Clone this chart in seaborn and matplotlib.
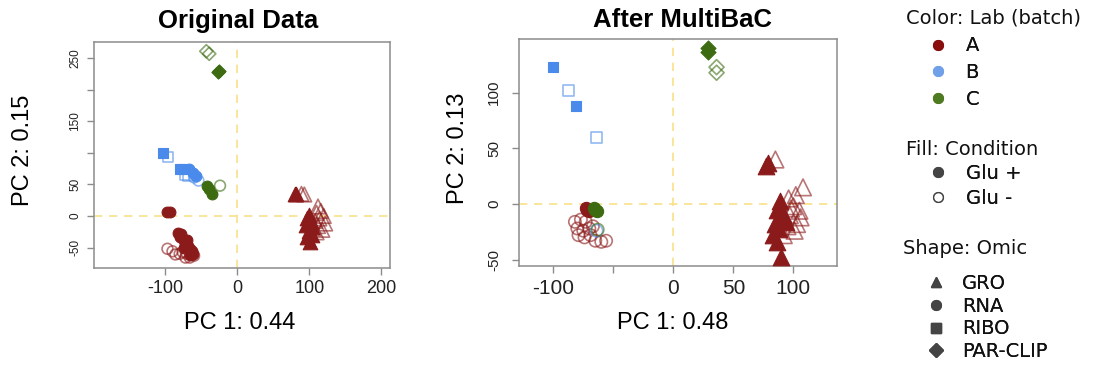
import pandas as pd
import matplotlib.pyplot as plt
import seaborn as sns
from matplotlib.lines import Line2D

# ---- Original data: PCA scores ----
orig_pc1 = [-98, -93, -82, -78, -80, -76, -73, -70, -72, -68, -66, -63, -62, -66, -74,   # A RNA Glu+
            -97, -90, -86, -80, -76, -70, -66, -60, -72,                                # A RNA Glu-
            80, 82, 100, 97, 102, 95, 104, 99, 103, 97, 101,                            # A GRO Glu+
            89, 93, 112, 116, 110, 120, 114, 108, 122, 112, 118, 106, 110,              # A GRO Glu-
            -103, -80, -75,                                                             # B RIBO Glu+
            -96, -69, -73,                                                              # B RIBO Glu-
            -67, -62, -57,                                                              # B RNA Glu+
            -54, -60,                                                                   # B RNA Glu-
            -42, -35, -40,                                                              # C RNA Glu+
            -24,                                                                        # C RNA Glu-
            -26, -27,                                                                   # C PAR-CLIP Glu+
            -43, -39]                                                                   # C PAR-CLIP Glu-
orig_pc2 = [7, 7, -27, -28, -33, -36, -40, -38, -45, -47, -52, -55, -60, -62, -50,
            -52, -56, -61, -60, -57, -60, -66, -63, -66,
            35, 35, 2, -4, -8, -14, -18, -24, -30, -34, -42,
            35, 34, 15, 8, 5, 0, -4, -8, -12, -16, -22, -20, -26,
            99, 74, 74,
            93, 63, 65,
            74, 68, 63,
            56, 61,
            47, 35, 42,
            48,
            229, 228,
            261, 257]
orig_lab = ["A"] * 48 + ["B"] * 11 + ["C"] * 8
orig_glu = (["Glu +"] * 15 + ["Glu -"] * 9 + ["Glu +"] * 11 + ["Glu -"] * 13
            + ["Glu +"] * 3 + ["Glu -"] * 3 + ["Glu +"] * 3 + ["Glu -"] * 2
            + ["Glu +"] * 3 + ["Glu -"] * 1 + ["Glu +"] * 2 + ["Glu -"] * 2)
orig_omic = (["RNA"] * 24 + ["GRO"] * 24 + ["RIBO"] * 6 + ["RNA"] * 5
             + ["RNA"] * 4 + ["PAR-CLIP"] * 4)

# ---- After MultiBaC: PCA scores ----
mbac_pc1 = [-72, -70, -73,                                                              # A RNA Glu+
            -82, -77, -73, -80, -75, -70, -79, -74, -69, -65, -60, -56, -67,            # A RNA Glu-
            79, 77, 89, 86, 91, 93, 85, 88, 83, 86, 90, 94,                             # A GRO Glu+
            85, 108, 102, 96, 100, 105, 97, 106, 95, 101, 103, 92, 98,                  # A GRO Glu-
            -100, -81,                                                                  # B RIBO Glu+
            -87, -64,                                                                   # B RIBO Glu-
            -64,                                                                        # B RNA Glu-
            -65, -64, -66,                                                              # C RNA Glu+
            -63,                                                                        # C RNA Glu-
            29, 29,                                                                     # C PAR-CLIP Glu+
            36, 36]                                                                     # C PAR-CLIP Glu-
mbac_pc2 = [-5, -6, -4,
            -16, -14, -16, -22, -24, -22, -28, -30, -28, -33, -34, -33, -20,
            37, 34, 3, -5, -9, -14, -18, -22, -28, -34, -48, -16,
            40, 15, 8, 5, -2, -6, -10, -12, -20, -24, -18, -28, -4,
            123, 88,
            102, 60,
            -24,
            -5, -6, -4,
            -23,
            140, 137,
            123, 118]
mbac_lab = ["A"] * 41 + ["B"] * 5 + ["C"] * 8
mbac_glu = (["Glu +"] * 3 + ["Glu -"] * 13 + ["Glu +"] * 12 + ["Glu -"] * 13
            + ["Glu +"] * 2 + ["Glu -"] * 3
            + ["Glu +"] * 3 + ["Glu -"] * 1 + ["Glu +"] * 2 + ["Glu -"] * 2)
mbac_omic = (["RNA"] * 16 + ["GRO"] * 25 + ["RIBO"] * 4 + ["RNA"] * 1
             + ["RNA"] * 4 + ["PAR-CLIP"] * 4)

labs = ["A", "B", "C"]
omics = ["GRO", "RNA", "RIBO", "PAR-CLIP"]
conditions = ["Glu +", "Glu -"]

lab_colors = {"A": "#8B1A1A", "B": "#4A8AEA", "C": "#3C6B12"}
legend_lab_colors = {"A": "#8B0E0E", "B": "#6FA0E8", "C": "#4E7A22"}
omic_markers = {"GRO": "^", "RNA": "o", "RIBO": "s", "PAR-CLIP": "D"}
omic_sizes = {"GRO": 110, "RNA": 60, "RIBO": 48, "PAR-CLIP": 45}

GRID_C = "#8C8C8C"


def build_frame(pc1, pc2, lab, glu, omic):
    return pd.DataFrame({"PC1": pc1, "PC2": pc2, "Lab": lab, "Glu": glu, "Omic": omic})


def draw_panel(ax, df, title, xlab, ylab, xlim, ylim, xticks, xticklabels,
               yticks, yticklabels, xtick_fs, ytick_fs, ypad, size_scale):
    ax.axhline(0, color="#FAE08A", lw=1.2, ls=(0, (5, 4)), zorder=1)
    ax.axvline(0, color="#FAE08A", lw=1.2, ls=(0, (5, 4)), zorder=1)
    # open markers first, filled on top
    for glu in ["Glu -", "Glu +"]:
        for lab in labs:
            for omic in omics:
                sub = df[(df["Glu"] == glu) & (df["Lab"] == lab) & (df["Omic"] == omic)]
                if sub.empty:
                    continue
                c = lab_colors[lab]
                s = omic_sizes[omic] * size_scale
                if glu == "Glu +":
                    sns.scatterplot(data=sub, x="PC1", y="PC2", ax=ax, marker=omic_markers[omic],
                                    s=s, color=c, edgecolor=c, linewidth=0.8,
                                    legend=False, zorder=3)
                else:
                    sns.scatterplot(data=sub, x="PC1", y="PC2", ax=ax, marker=omic_markers[omic],
                                    s=s, facecolor="none", edgecolor=c, color=c,
                                    linewidth=1.2, alpha=0.6, legend=False, zorder=2)
    ax.set_xlim(*xlim)
    ax.set_ylim(*ylim)
    ax.set_xticks(xticks)
    ax.set_xticklabels(xticklabels, fontsize=xtick_fs, color="#222222")
    ax.set_yticks(yticks)
    ax.set_yticklabels(yticklabels, fontsize=ytick_fs, color="#222222", rotation=90, va="center")
    ax.tick_params(bottom=True, left=True, length=5, width=1, color=GRID_C, pad=4)
    ax.tick_params(axis="y", pad=ypad)
    for sp in ax.spines.values():
        sp.set_color(GRID_C)
        sp.set_linewidth(1.1)
    ax.set_xlabel(xlab, fontsize=17, color="black")
    ax.set_ylabel(ylab, fontsize=17, color="black")
    ax.set_title(title, fontsize=18.5, fontweight="bold", color="black")


def main():
    sns.set_style("white")
    plt.rcParams["font.family"] = ["Liberation Sans", "DejaVu Sans"]
    plt.rcParams["text.color"] = "#111111"
    orig = build_frame(orig_pc1, orig_pc2, orig_lab, orig_glu, orig_omic)
    mbac = build_frame(mbac_pc1, mbac_pc2, mbac_lab, mbac_glu, mbac_omic)

    fig = plt.figure(figsize=(11.03, 3.71), dpi=100)
    ax1 = fig.add_axes([0.0852, 0.2784, 0.2684, 0.609])
    ax2 = fig.add_axes([0.4705, 0.283, 0.288, 0.611])

    draw_panel(ax1, orig, "Original Data", "PC 1: 0.44", "PC 2: 0.15",
               (-199, 212), (-82, 276), [-100, 0, 100, 200], ["-100", "0", "100", "200"],
               [-50, 0, 50, 100, 150, 200, 250], ["-50", "0", "50", "", "150", "", "250"],
               13, 8.5, 4, 1.0)
    draw_panel(ax2, mbac, "After MultiBaC", "PC 1: 0.48", "PC 2: 0.13",
               (-128.6, 136), (-55.7, 148), [-100, -50, 0, 50, 100], ["-100", "", "0", "50", "100"],
               [-50, 0, 50, 100], ["-50", "0", "50", "100"], 15, 11, 8, 1.3)

    ax1.xaxis.set_label_coords(0.493, -0.196)
    ax2.xaxis.set_label_coords(0.484, -0.203)
    ax1.yaxis.set_label_coords(-0.203, 0.52)
    ax2.yaxis.set_label_coords(-0.157, 0.52)
    ax1.set_title(ax1.get_title(), fontsize=18.5, fontweight="bold", pad=10, x=0.4875)
    ax2.set_title(ax2.get_title(), fontsize=18.5, fontweight="bold", pad=9, x=0.515)

    # legends: titles as text, entries as borderless legends
    leg_font = {"family": "DejaVu Sans", "size": 14}
    grey = "#444444"
    color_handles = [Line2D([], [], ls="none", marker="o", ms=7, mfc=legend_lab_colors[l],
                            mec=legend_lab_colors[l]) for l in labs]
    fill_handles = [Line2D([], [], ls="none", marker="o", ms=7, mfc=grey, mec=grey),
                    Line2D([], [], ls="none", marker="o", ms=7, mfc="white", mec=grey, mew=1)]
    shape_handles = [Line2D([], [], ls="none", marker=omic_markers[o], ms=7, mfc=grey, mec=grey)
                     for o in omics]
    specs = [("Color: Lab (batch)", 0.8215, 1 - 18 / 371, color_handles, labs, 0.8046, 0.39, 2.4),
             ("Fill: Condition", 0.8215, 1 - 150 / 371, fill_handles, conditions, 0.4987, 0.31, 2.4),
             ("Shape: Omic", 0.8187, 1 - 248 / 371, shape_handles, omics, 0.1442, 0.19, 2.2)]
    for title, tx, ty, handles, labels, ycen, spacing, hlen in specs:
        fig.text(tx, ty, title, ha="left", va="center", fontdict=leg_font, color="#111111")
        leg = fig.legend(handles, labels, loc="center left",
                         bbox_to_anchor=(915 / 1103, ycen), frameon=False, prop=leg_font,
                         handlelength=hlen, handletextpad=0.2, labelspacing=spacing,
                         borderaxespad=0, borderpad=0)
        for t in leg.get_texts():
            t.set_color("#111111")
        fig.add_artist(leg)

    fig.savefig("out.png", dpi=100)
    plt.close(fig)


if __name__ == "__main__":
    main()
